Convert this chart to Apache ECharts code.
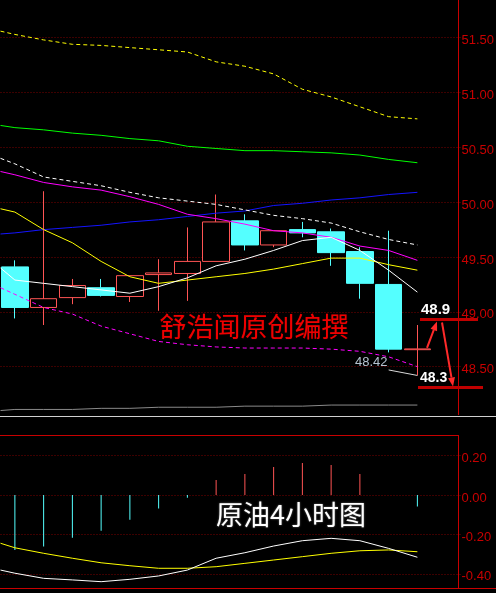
<!DOCTYPE html>
<html>
<head>
<meta charset="utf-8">
<style>
html, body { margin: 0; padding: 0; background: #000; }
#kline { width: 496px; height: 593px; }
</style>
<script src="https://cdn.jsdelivr.net/npm/echarts@6/dist/echarts.min.js"></script>
</head>
<body>
<div id="kline"></div>
<script>
// bars (4h), last slot left empty
const categories = ['K1', 'K2', 'K3', 'K4', 'K5', 'K6', 'K7', 'K8', 'K9', 'K10', 'K11', 'K12', 'K13', 'K14', 'K15', 'K16']
// open, close, low, high
const candles = [
  [49.41, 49.04, 48.94, 49.47],
  [49.04, 49.12, 48.88, 50.10],
  [49.13, 49.24, 49.07, 49.30],
  [49.22, 49.15, 49.14, 49.30],
  [49.14, 49.33, 49.09, 49.33],
  [49.34, 49.355, 49.01, 49.48],
  [49.35, 49.46, 49.10, 49.77],
  [49.46, 49.82, 49.46, 50.07],
  [49.83, 49.61, 49.56, 49.89],
  [49.61, 49.74, 49.59, 49.74],
  [49.75, 49.72, 49.68, 49.82],
  [49.73, 49.54, 49.42, 49.76],
  [49.55, 49.26, 49.12, 49.59],
  [49.25, 48.66, 48.63, 49.74],
  [48.655, 48.662, 48.42, 48.88],
]
// x position of each line point (first one sits on the left edge)
const linePos = [-0.5, 0, 1, 2, 3, 4, 5, 6, 7, 8, 9, 10, 11, 12, 13, 14]
const yellowDots = [51.56, 51.53, 51.48, 51.44, 51.43, 51.41, 51.39, 51.37, 51.28, 51.24, 51.17, 51.03, 50.96, 50.87, 50.78, 50.76]
const greenMa = [50.70, 50.68, 50.66, 50.63, 50.61, 50.58, 50.56, 50.51, 50.49, 50.47, 50.47, 50.46, 50.45, 50.43, 50.39, 50.36]
const blueMa = [49.71, 49.72, 49.75, 49.77, 49.79, 49.82, 49.84, 49.87, 49.90, 49.92, 49.97, 49.99, 50.02, 50.04, 50.07, 50.09]
const whiteDots = [50.40, 50.35, 50.23, 50.19, 50.15, 50.09, 50.04, 50.01, 49.98, 49.93, 49.88, 49.85, 49.81, 49.73, 49.66, 49.61]
const magentaMa = [50.28, 50.25, 50.18, 50.14, 50.11, 50.05, 49.98, 49.89, 49.85, 49.80, 49.74, 49.72, 49.68, 49.60, 49.56, 49.47]
const yellowMa = [49.94, 49.91, 49.75, 49.63, 49.46, 49.32, 49.26, 49.29, 49.32, 49.35, 49.39, 49.44, 49.49, 49.49, 49.43, 49.38]
const whiteMa = [49.40, 49.29, 49.26, 49.23, 49.20, 49.17, 49.23, 49.31, 49.42, 49.48, 49.56, 49.65, 49.68, 49.56, 49.38, 49.18]
const magentaDots = [49.22, 49.16, 49.04, 48.98, 48.87, 48.80, 48.73, 48.70, 48.68, 48.67, 48.67, 48.67, 48.66, 48.64, 48.59, 48.50]
const grayMa = [48.10, 48.11, 48.11, 48.11, 48.12, 48.12, 48.13, 48.13, 48.13, 48.14, 48.14, 48.14, 48.15, 48.15, 48.15, 48.15]
const lowPos = [13, 14]
const lowLine = [48.47, 48.42]

// MACD
const macdHist = [-0.279, -0.262, -0.217, -0.181, -0.125, -0.069, -0.014, 0.076, 0.107, 0.142, 0.162, 0.152, 0.107, 0, -0.059]
const dea = [-0.245, -0.268, -0.296, -0.321, -0.344, -0.359, -0.372, -0.372, -0.364, -0.347, -0.330, -0.313, -0.296, -0.283, -0.279, -0.288]
const dif = [-0.381, -0.397, -0.423, -0.431, -0.440, -0.428, -0.411, -0.381, -0.321, -0.293, -0.259, -0.232, -0.220, -0.232, -0.271, -0.316]

// hand drawn notes
const noteLevels = [48.93, 48.31]
const noteTexts = ['48.9', '48.3']
const lastLow = 48.42

const RED = '#ff5454'
const CYAN = '#54ffff'
const AXIS_RED = '#c80000'
const DOT_RED = '#7a0000'

const pts = (xs, vals) => vals.map((v, i) => [xs[i], v])

const line = (name, vals, color, dashed, xs, ax) => ({
  name,
  type: 'line',
  xAxisIndex: ax ? 3 : 1,
  yAxisIndex: ax ? 1 : 0,
  data: pts(xs || linePos, vals),
  showSymbol: false,
  silent: true,
  lineStyle: { color, width: 1, type: dashed ? [4, 3] : 'solid' },
  z: 3,
})

// labels sit a little under their grid line, like the terminal does
const yLabel = {
  color: AXIS_RED, fontSize: 13, fontFamily: 'Liberation Sans', margin: 1,
  showMinLabel: false, showMaxLabel: false,
  formatter: (v) => '{t|' + v.toFixed(2) + '}',
  rich: { t: { color: AXIS_RED, fontSize: 13, fontFamily: 'Liberation Sans', padding: [6, 0, 0, 0] } },
}
const ySplit = { show: true, showMinLine: false, showMaxLine: false, lineStyle: { color: DOT_RED, type: [1, 2], width: 1 } }

const myChart = echarts.init(document.getElementById('kline'))

let option = {
  backgroundColor: '#000',
  animation: false,
  grid: [
    { left: 0.5, width: 460, top: -17.1, height: 438.6, outerBoundsMode: 'none', containLabel: false },
    { left: 0.5, width: 460, top: 416.2, height: 197, outerBoundsMode: 'none', containLabel: false },
  ],
  xAxis: [
    { type: 'category', gridIndex: 0, data: categories, show: false, boundaryGap: true },
    { type: 'value', gridIndex: 0, min: -0.5, max: 15.5, show: false },
    { type: 'category', gridIndex: 1, data: categories, show: false, boundaryGap: true },
    { type: 'value', gridIndex: 1, min: -0.5, max: 15.5, show: false },
  ],
  yAxis: [
    {
      type: 'value', gridIndex: 0, position: 'right', min: 48, max: 52, interval: 0.5,
      axisLine: { show: false }, axisTick: { show: false },
      axisLabel: yLabel,
      splitLine: ySplit,
    },
    {
      type: 'value', gridIndex: 1, position: 'right', min: -0.6, max: 0.4, interval: 0.2,
      axisLine: { show: false }, axisTick: { show: false },
      axisLabel: yLabel,
      splitLine: ySplit,
    },
  ],
  series: [
    {
      name: 'K',
      type: 'candlestick',
      xAxisIndex: 0,
      yAxisIndex: 0,
      data: candles,
      barWidth: 27,
      silent: true,
      itemStyle: { color: '#000', color0: CYAN, borderColor: RED, borderColor0: CYAN, borderWidth: 1 },
      z: 2,
    },
    line('upper', yellowDots, '#ffff00', true),
    line('ma60', greenMa, '#00ff00', false),
    line('ma120', blueMa, '#1414ff', false),
    line('bollUp', whiteDots, '#ffffff', true),
    line('bollMid', magentaMa, '#ff00ff', false),
    line('ma10', yellowMa, '#ffff00', false),
    line('ma5', whiteMa, '#ffffff', false),
    line('bollLow', magentaDots, '#ff00ff', true),
    line('lower', grayMa, '#8a8a8a', false),
    line('low', lowLine, '#d8d8d8', false, lowPos),
    {
      name: 'MACD',
      type: 'bar',
      xAxisIndex: 2,
      yAxisIndex: 1,
      barWidth: 1,
      silent: true,
      data: macdHist.map((v) => ({ value: v, itemStyle: { color: v >= 0 ? RED : CYAN } })),
    },
    line('DEA', dea, '#ffff00', false, linePos, true),
    line('DIF', dif, '#ffffff', false, linePos, true),
  ],
}

myChart.setOption(option)

// frame + hand drawn notes
const yOf = (v) => myChart.convertToPixel({ yAxisIndex: 0 }, v)
const arrow = (x1, y1, x2, y2) => {
  const a = Math.atan2(y2 - y1, x2 - x1)
  const L = 9, W = 3.5
  const bx = x2 - L * Math.cos(a), by = y2 - L * Math.sin(a)
  const px = -Math.sin(a) * W, py = Math.cos(a) * W
  return [
    { type: 'line', shape: { x1, y1, x2: bx, y2: by }, style: { stroke: '#ff2a2a', lineWidth: 2 }, z: 20 },
    { type: 'polygon', shape: { points: [[x2, y2], [bx + px, by + py], [bx - px, by - py]] }, style: { fill: '#ff2a2a' }, z: 20 },
  ]
}
const hi = yOf(noteLevels[0])
const lo = yOf(noteLevels[1])
const close = yOf(candles[candles.length - 1][1])
const frame = { stroke: AXIS_RED, lineWidth: 1 }

myChart.setOption({
  graphic: [
    { type: 'line', shape: { x1: 458.5, y1: 0, x2: 458.5, y2: 415 }, style: frame, z: 10 },
    { type: 'line', shape: { x1: 0, y1: 416.5, x2: 496, y2: 416.5 }, style: { stroke: '#d0d0d0', lineWidth: 1 }, z: 10 },
    { type: 'line', shape: { x1: 0, y1: 435.5, x2: 458.5, y2: 435.5 }, style: frame, z: 10 },
    { type: 'line', shape: { x1: 458.5, y1: 435, x2: 458.5, y2: 588.5 }, style: frame, z: 10 },
    { type: 'line', shape: { x1: 0, y1: 588.5, x2: 496, y2: 588.5 }, style: frame, z: 10 },
    { type: 'line', shape: { x1: 420, y1: hi, x2: 478, y2: hi }, style: { stroke: '#c00000', lineWidth: 3 }, z: 15 },
    { type: 'line', shape: { x1: 418, y1: lo, x2: 483, y2: lo }, style: { stroke: '#c00000', lineWidth: 3 }, z: 15 },
    { type: 'text', x: 421, y: hi - 2, style: { text: noteTexts[0], fill: '#fff', font: 'bold 15px "Liberation Sans"', textVerticalAlign: 'bottom' }, z: 16 },
    { type: 'text', x: 420, y: lo - 2, style: { text: noteTexts[1], fill: '#fff', font: 'bold 14px "Liberation Sans"', textVerticalAlign: 'bottom' }, z: 16 },
    ...arrow(427, close - 1, 437, hi + 2),
    ...arrow(442, hi + 3, 453, lo - 1),
    { type: 'text', x: 355, y: yOf(lastLow) - 13, style: { text: lastLow.toFixed(2), fill: '#b4c2d0', font: '13px "Liberation Sans"', textVerticalAlign: 'middle' }, z: 16 },
    { type: 'text', x: 254, y: 327, style: { text: '舒浩闻原创编撰', fill: '#ee0000', font: '27px "Noto Sans CJK SC"', textAlign: 'center', textVerticalAlign: 'middle', textShadowColor: '#600000', textShadowBlur: 1 }, z: 16 },
    { type: 'text', x: 291, y: 515, style: { text: '原油4小时图', fill: '#ffffff', font: '27px "Noto Sans CJK SC"', textAlign: 'center', textVerticalAlign: 'middle', textShadowColor: '#777', textShadowBlur: 2 }, z: 16 },
  ],
})
</script>
</body>
</html>
